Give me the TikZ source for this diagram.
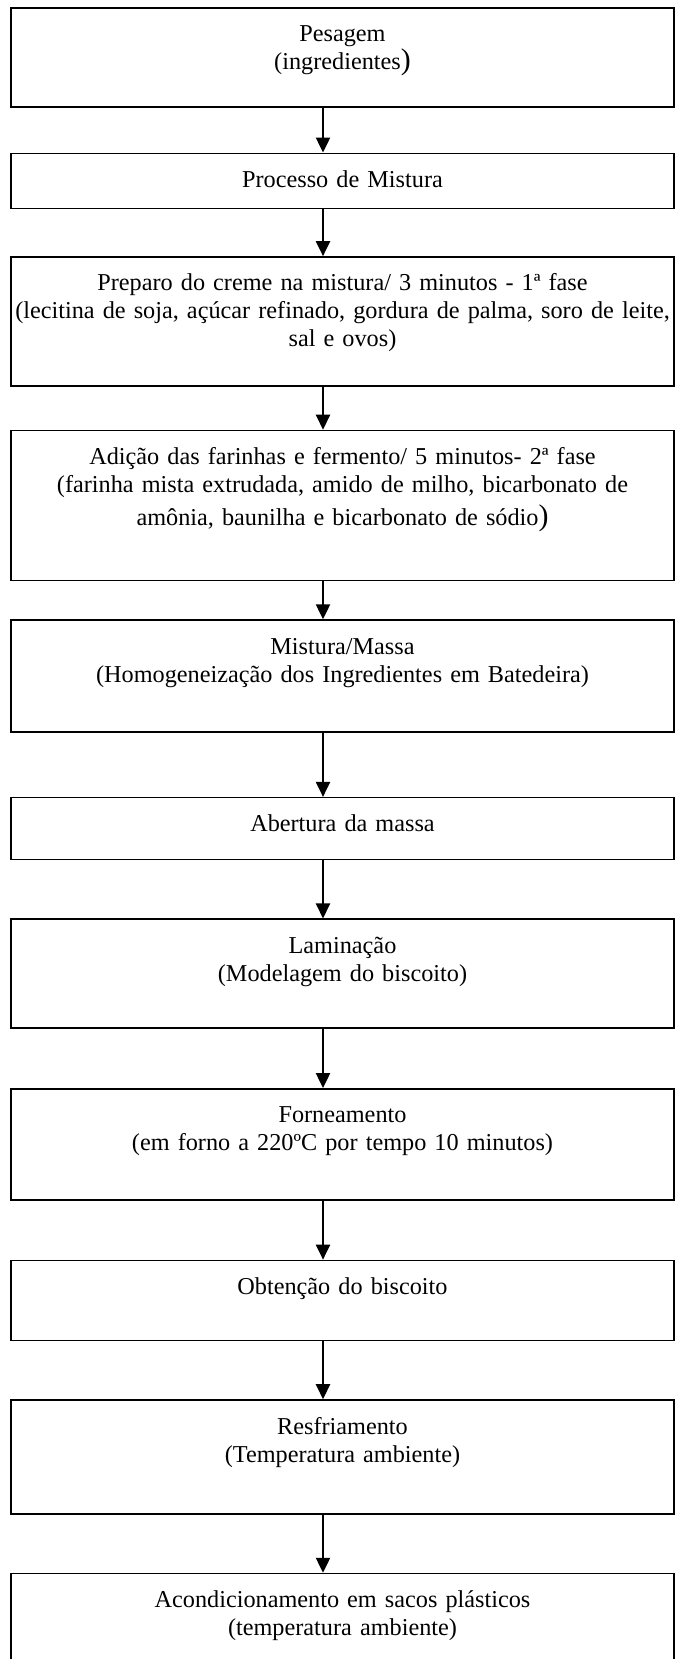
\documentclass[tikz,border=0pt]{standalone}
\usepackage{fontspec}
\setmainfont{Liberation Serif}
\usepackage{tikz}
\usetikzlibrary{arrows.meta, positioning}

\begin{document}
\begin{tikzpicture}[
			stepbox/.style={rectangle, draw=black, line width=0.9pt, anchor=north, align=center, text width=13.26cm, inner xsep=0pt, inner ysep=0pt, text height=0.68cm, font=\fontsize{13.8}{15.94}\selectfont},
			arrow/.style={line width=1.2pt, -{Triangle[width=0.28cm, length=0.3cm]}}
			]
			\useasboundingbox (0,0) rectangle (13.5,-33.18);
			
			% Etapas do processo
			\node (pesagem) [stepbox, text depth=1.30cm] at (6.85,-0.14) {Pesagem \\ (ingredientes{\fontsize{17}{17}\selectfont )}};
			\node (processo) [stepbox, text depth=0.42cm, below=0.90cm of pesagem] {Processo de Mistura};
			\node (creme) [stepbox, text depth=1.90cm, below=0.94cm of processo] {Preparo do creme na mistura/ 3 minutos - 1ª fase \\ (lecitina de soja, açúcar refinado, gordura de palma, soro de leite, \\ sal e ovos)};
			\node (farinhas) [stepbox, text depth=2.32cm, below=0.86cm of creme] {Adição das farinhas e fermento/ 5 minutos- 2ª fase \\ (farinha mista extrudada, amido de milho, bicarbonato de \\[0.1cm] amônia, baunilha e bicarbonato de sódio{\fontsize{17}{17}\selectfont )}};
			\node (massa) [stepbox, text depth=1.56cm, below=0.76cm of farinhas] {Mistura/Massa \\ (Homogeneização dos Ingredientes em Batedeira)};
			\node (abertura) [stepbox, text depth=0.56cm, below=1.28cm of massa] {Abertura da massa};
			\node (laminacao) [stepbox, text depth=1.50cm, below=1.16cm of abertura] {Laminação \\ (Modelagem do biscoito)};
			\node (forneamento) [stepbox, text depth=1.54cm, below=1.18cm of laminacao] {Forneamento \\ (em forno a 220ºC por tempo 10 minutos)};
			\node (obtencao) [stepbox, text depth=0.92cm, below=1.18cm of forneamento] {Obtenção do biscoito};
			\node (resfriamento) [stepbox, text depth=1.60cm, below=1.16cm of obtencao] {Resfriamento \\ (Temperatura ambiente)};
			\node (acondic) [stepbox, text depth=1.92cm, below=1.16cm of resfriamento] {Acondicionamento em sacos plásticos \\ (temperatura ambiente)};
			
			% Eixo das setas
			\coordinate (eixo) at (6.46,0);
			
			% Conexoes
			\draw [arrow] (pesagem.south -| eixo) -- (processo.north -| eixo);
			\draw [arrow] (processo.south -| eixo) -- (creme.north -| eixo);
			\draw [arrow] (creme.south -| eixo) -- (farinhas.north -| eixo);
			\draw [arrow] (farinhas.south -| eixo) -- (massa.north -| eixo);
			\draw [arrow] (massa.south -| eixo) -- (abertura.north -| eixo);
			\draw [arrow] (abertura.south -| eixo) -- (laminacao.north -| eixo);
			\draw [arrow] (laminacao.south -| eixo) -- (forneamento.north -| eixo);
			\draw [arrow] (forneamento.south -| eixo) -- (obtencao.north -| eixo);
			\draw [arrow] (obtencao.south -| eixo) -- (resfriamento.north -| eixo);
			\draw [arrow] (resfriamento.south -| eixo) -- (acondic.north -| eixo);
			
		\end{tikzpicture}
\end{document}
